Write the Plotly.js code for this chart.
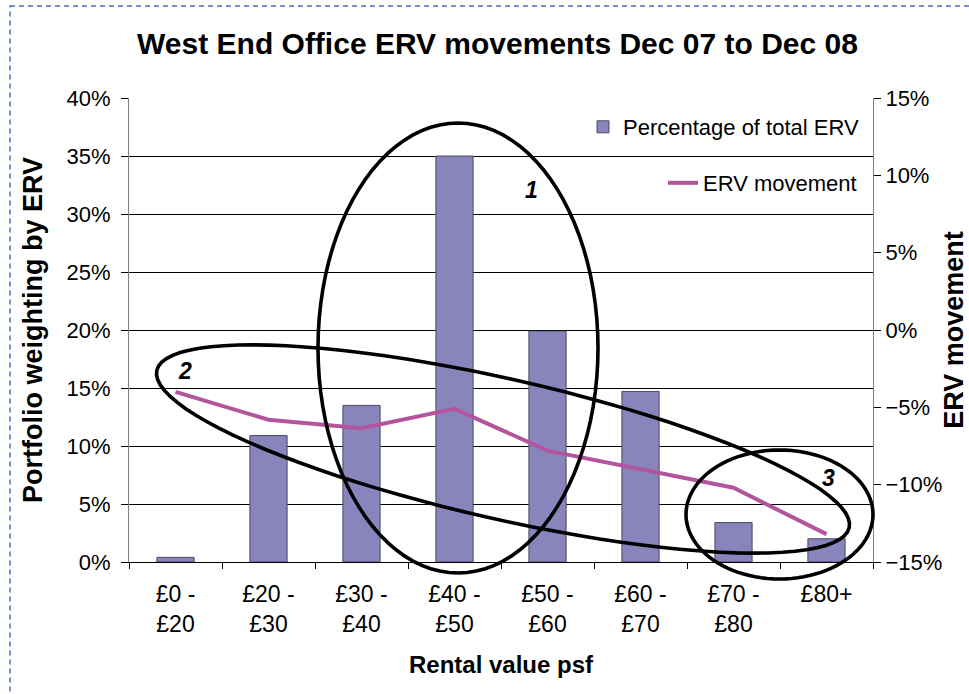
<!DOCTYPE html>
<html>
<head>
<meta charset="utf-8">
<script src="https://cdn.plot.ly/plotly-3.0.1.min.js"></script>
<style>
html,body{margin:0;padding:0;background:#fff;}
#chart{width:969px;height:694px;}
</style>
</head>
<body>
<div id="chart"></div>
<script>
// ---- data ----
var categories = ["£0 -<br>£20", "£20 -<br>£30", "£30 -<br>£40", "£40 -<br>£50", "£50 -<br>£60", "£60 -<br>£70", "£70 -<br>£80", "£80+"];
var weighting = [0.004, 0.109, 0.135, 0.350, 0.199, 0.147, 0.034, 0.020];
var ervMovement = [-0.040, -0.058, -0.0635, -0.051, -0.078, -0.090, -0.102, -0.132];
var leftTicks = [0, 0.05, 0.10, 0.15, 0.20, 0.25, 0.30, 0.35, 0.40];
var rightTicks = [-0.15, -0.10, -0.05, 0, 0.05, 0.10, 0.15];

// ---- layout geometry ----
var W = 969, H = 694;
var M = {l: 129, r: 96, t: 98, b: 132};
var PW = W - M.l - M.r, PH = H - M.t - M.b;
function px2paper(x, y) { return [(x - M.l) / PW, (H - M.b - y) / PH]; }
function ellipsePath(cx, cy, a, b, deg) {
  var th = deg * Math.PI / 180, n = 96, s = "";
  for (var i = 0; i <= n; i++) {
    var t = 2 * Math.PI * i / n;
    var x = cx + a * Math.cos(t) * Math.cos(th) - b * Math.sin(t) * Math.sin(th);
    var y = cy + a * Math.cos(t) * Math.sin(th) + b * Math.sin(t) * Math.cos(th);
    var p = px2paper(x, y);
    s += (i === 0 ? "M" : "L") + p[0].toFixed(5) + "," + p[1].toFixed(5);
  }
  return s + "Z";
}

var FONT = "Liberation Sans, Arial, sans-serif";

var traces = [
  {
    type: "bar",
    x: categories,
    y: weighting,
    name: "Percentage of total ERV",
    marker: {color: "#8884BC", line: {color: "#4b4b63", width: 1}},
    width: 0.4,
    legend: "legend",
    hoverinfo: "skip"
  },
  {
    type: "scatter",
    mode: "lines",
    x: categories,
    y: ervMovement,
    name: "ERV movement",
    yaxis: "y2",
    line: {color: "#B3559D", width: 4},
    legend: "legend2",
    hoverinfo: "skip"
  }
];

var tl = px2paper(10, 6);
var shapes = [
  {type: "rect", xref: "paper", yref: "paper", x0: tl[0], y0: tl[1], x1: 1.3, y1: -0.4,
   line: {color: "#4472C4", width: 1.5, dash: "5px,4px"}, layer: "below"},
  {type: "path", xref: "paper", yref: "paper", path: ellipsePath(458, 348, 140, 225, 0),
   line: {color: "#000", width: 3.6}, layer: "above"},
  {type: "path", xref: "paper", yref: "paper", path: ellipsePath(503, 449, 355, 70, 12.8),
   line: {color: "#000", width: 3.6}, layer: "above"},
  {type: "path", xref: "paper", yref: "paper", path: ellipsePath(779.5, 514.5, 93.5, 64.5, 0),
   line: {color: "#000", width: 3.6}, layer: "above"}
];

function lab(txt, x, y) {
  var p = px2paper(x, y);
  return {text: "<b><i>" + txt + "</i></b>", xref: "paper", yref: "paper", x: p[0], y: p[1],
          showarrow: false, xanchor: "center", yanchor: "middle",
          font: {family: FONT, size: 23, color: "#000"}};
}

var layout = {
  width: W, height: H,
  margin: M,
  paper_bgcolor: "#fff",
  plot_bgcolor: "#fff",
  font: {family: FONT, size: 22, color: "#000"},
  showlegend: true,
  title: {
    text: "<b>West End Office ERV movements Dec 07 to Dec 08</b>",
    font: {family: FONT, size: 30, color: "#000"},
    xref: "paper", x: (497.5 - M.l) / PW, xanchor: "center",
    yref: "container", y: 1 - 43 / H, yanchor: "middle"
  },
  xaxis: {
    type: "category",
    showline: true, linecolor: "#000", linewidth: 1,
    ticks: "outside", ticklen: 6, tickcolor: "#000", tickson: "boundaries",
    showgrid: false,
    ticklabelstandoff: 11,
    tickfont: {family: FONT, size: 23, color: "#000"},
    title: {text: "<b>Rental value psf</b>", font: {family: FONT, size: 24, color: "#000"}, standoff: 20},
    automargin: false,
    fixedrange: true
  },
  yaxis: {
    range: [0, 0.4],
    tickvals: leftTicks,
    tickformat: ".0%",
    showline: true, linecolor: "#808080", linewidth: 1,
    ticks: "outside", ticklen: 7, tickcolor: "#000",
    showgrid: true, gridcolor: "#000", gridwidth: 1,
    zeroline: false,
    ticklabelstandoff: 6,
    tickfont: {family: FONT, size: 22, color: "#000"},
    title: {text: "<b>Portfolio weighting by ERV</b>", font: {family: FONT, size: 27, color: "#000"}, standoff: 16},
    automargin: false,
    fixedrange: true
  },
  yaxis2: {
    overlaying: "y", side: "right",
    range: [-0.15, 0.15],
    tickvals: rightTicks,
    tickformat: ".0%",
    showline: true, linecolor: "#808080", linewidth: 1,
    ticks: "outside", ticklen: 7, tickcolor: "#000",
    showgrid: false, zeroline: false,
    tickfont: {family: FONT, size: 22, color: "#000"},
    title: {text: "<b>ERV movement</b>", font: {family: FONT, size: 27, color: "#000"}, standoff: 16},
    automargin: false,
    fixedrange: true
  },
  legend: {
    x: (864 - M.l) / PW, xanchor: "right",
    y: px2paper(0, 127)[1], yanchor: "middle",
    bgcolor: "rgba(0,0,0,0)", borderwidth: 0,
    font: {family: FONT, size: 22, color: "#000"}
  },
  legend2: {
    x: (862 - M.l) / PW, xanchor: "right",
    y: px2paper(0, 183)[1], yanchor: "middle",
    bgcolor: "rgba(0,0,0,0)", borderwidth: 0,
    font: {family: FONT, size: 22, color: "#000"}
  },
  shapes: shapes,
  annotations: [lab("1", 531, 190), lab("2", 185, 371), lab("3", 828, 478)]
};

Plotly.newPlot("chart", traces, layout, {staticPlot: true, displayModeBar: false});
</script>
</body>
</html>
